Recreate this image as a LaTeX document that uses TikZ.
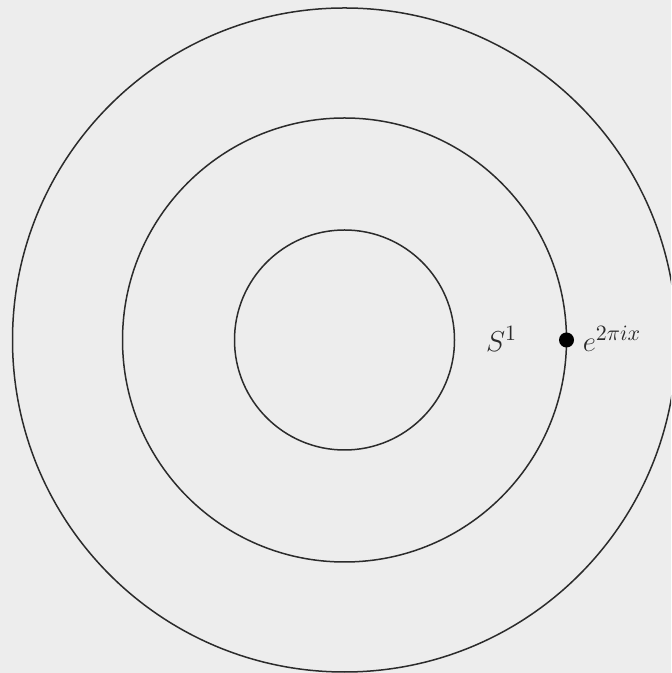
\documentclass[tikz,border=0pt]{standalone}
\usepackage{amsmath,amssymb}
\usepackage{tikz}
\usetikzlibrary{positioning,calc}
\DeclareMathSizes{14.4}{14.4}{11}{8}
\definecolor{cPaper}{HTML}{EDEDED}
\definecolor{cInk}  {HTML}{2B2B2B}
\tikzset{
  ring/.style  ={draw=cInk,line width=0.75pt},
  pt/.style    ={circle,fill=black,inner sep=0pt,minimum size=7.5pt},
  lbl/.style   ={font=\Large,text=cInk,inner sep=1pt},
}

\begin{document}
\begin{tikzpicture}[x=0.5pt, y=0.5pt]
% ---- page, 671 x 673 ------------------------------------------------------
\fill[cPaper] (0,0) rectangle (671,673);
\useasboundingbox (0,0) rectangle (671,673);
\begin{scope}
\clip (0,0) rectangle (671,673);

% ---- the three rings -------------------------------------------------------
\coordinate (o) at (344.5,333);
\foreach \r in {110, 222, 332}{%
  \draw[ring] (o) circle[radius=\r];
}

% ---- the point on the middle ring ------------------------------------------
\node[pt] (p) at ($(o)+(222,0)$) {};
\node[lbl,anchor=west] (e) at ($(p.east)+(6,1)$) {$e^{2\pi ix}$};
\node[lbl] (s) at ($(o)+(157,1)$) {$S^1$};
\end{scope}
\end{tikzpicture}
\end{document}
